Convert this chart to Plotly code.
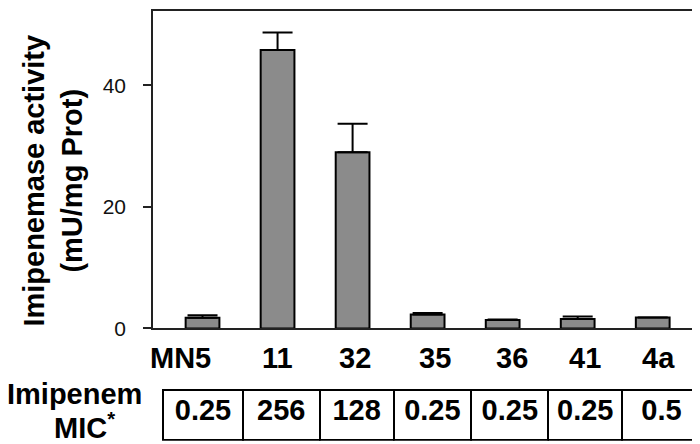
import plotly.graph_objects as go

strains = ["MN5", "11", "32", "35", "36", "41", "4a"]
activity = [1.75, 45.8, 29.0, 2.3, 1.38, 1.54, 1.8]
activity_err = [0.43, 2.9, 4.7, 0.25, 0.1, 0.43, 0.0]
mic = ["0.25", "256", "128", "0.25", "0.25", "0.25", "0.5"]
y_ticks = [0, 20, 40]
label_shift = [-22, 0, 2, 7, 9, 7, 6]
col_widths = [80, 76.7, 74, 77.6, 77.4, 73.6, 79]

W, H = 700, 444
FONT = "Liberation Sans, Arial, Helvetica, sans-serif"

def px_x(p):
    return p / W

def px_y(p):
    return (H - p) / H

idx = list(range(len(strains)))

fig = go.Figure()

fig.add_trace(go.Bar(
    x=idx, y=activity,
    width=0.45,
    marker=dict(color="#8b8b8b", line=dict(color="black", width=2)),
    error_y=dict(type="data", array=activity_err, symmetric=False,
                 arrayminus=[0] * len(activity_err),
                 color="black", thickness=2, width=15),
    showlegend=False,
))

fig.add_trace(go.Table(
    domain=dict(x=[px_x(155), px_x(693.5)], y=[px_y(444), px_y(391.5)]),
    header=dict(values=mic, height=50,
                align="center",
                line=dict(color="black", width=2),
                fill=dict(color="white"),
                font=dict(family=FONT, size=29, color="black", weight="bold")),
    cells=dict(values=[], height=1, line=dict(width=0), fill=dict(color="white")),
    columnwidth=col_widths,
))

fig.update_layout(
    width=W, height=H,
    margin=dict(l=0, r=0, t=0, b=0),
    paper_bgcolor="white", plot_bgcolor="white",
    font=dict(family=FONT, color="black"),
    xaxis=dict(type="linear", domain=[px_x(145), px_x(698)], range=[-0.66, 6.71],
               showline=True, linecolor="#222", linewidth=1.5, mirror=True,
               showticklabels=False, ticks="", showgrid=False, zeroline=False,
               fixedrange=True),
    yaxis=dict(domain=[px_y(328.6), px_y(3.3)], range=[0, 52.2],
               tickvals=y_ticks, ticks="outside", ticklen=8, tickwidth=1.5,
               tickcolor="#222", ticklabelstandoff=13,
               tickfont=dict(size=21, color="#111"),
               showline=True, linecolor="#222", linewidth=1.5, mirror=True,
               showgrid=False, zeroline=False, fixedrange=True),
)

for i, (s, dx) in enumerate(zip(strains, label_shift)):
    fig.add_annotation(x=i, xref="x", y=px_y(359), yref="paper",
                       text=s, showarrow=False, xshift=dx,
                       xanchor="center", yanchor="middle",
                       font=dict(size=29, weight="bold", color="black"))

fig.add_annotation(x=px_x(45), y=px_y(177), xref="paper", yref="paper",
                   text="Imipenemase activity<br>(mU/mg Prot)",
                   textangle=-90, showarrow=False,
                   xanchor="center", yanchor="middle",
                   font=dict(size=29, weight="bold", color="black"))

fig.add_annotation(x=px_x(66.5), y=px_y(396), xref="paper", yref="paper",
                   text="Imipenem", showarrow=False,
                   xanchor="center", yanchor="middle",
                   font=dict(size=29, weight="bold", color="black"))
fig.add_annotation(x=px_x(76.5), y=px_y(429), xref="paper", yref="paper",
                   text="MIC<sup>*</sup>", showarrow=False,
                   xanchor="center", yanchor="middle",
                   font=dict(size=29, weight="bold", color="black"))

fig.write_html("out.html")
